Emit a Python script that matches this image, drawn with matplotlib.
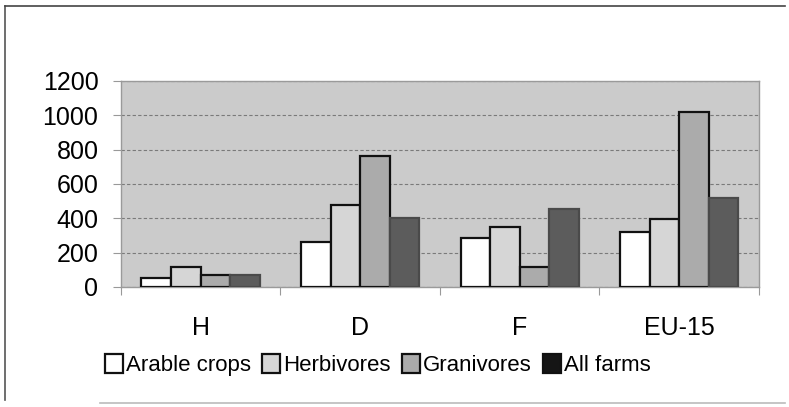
import matplotlib.pyplot as plt
import numpy as np
from matplotlib.patches import Patch

plt.rcParams['font.family'] = ['Liberation Sans', 'DejaVu Sans']

# Data
countries = ['H', 'D', 'F', 'EU-15']
series = ['Arable crops', 'Herbivores', 'Granivores', 'All farms']
arable = [50, 260, 287, 319]
herbivores = [115, 476, 348, 394]
granivores = [68, 765, 117, 1021]
all_farms = [70, 404, 453, 517]
values = [arable, herbivores, granivores, all_farms]
y_ticks = [0, 200, 400, 600, 800, 1000, 1200]

colors = ['#ffffff', '#d6d6d6', '#ababab', '#5c5c5c']
edges = ['#111111', '#111111', '#111111', '#4a4a4a']
legend_colors = ['#ffffff', '#d6d6d6', '#ababab', '#151515']

fig = plt.figure(figsize=(7.89, 4.07), dpi=100)
ax = fig.add_axes([0.153, 0.295, 0.809, 0.506])
ax.set_facecolor('#cbcbcb')

x = np.arange(len(countries))
w = 0.185
for i, vals in enumerate(values):
    ax.bar(x + (i - 1.5) * w, vals, width=w, color=colors[i],
           edgecolor=edges[i], linewidth=1.6, zorder=3)

ax.set_xlim(-0.5, len(countries) - 0.5)
ax.set_ylim(0, 1200)
ax.set_yticks(y_ticks)
ax.set_yticklabels([str(v) for v in y_ticks], fontsize=18)
ax.yaxis.grid(True, linestyle=(0, (3, 2)), color='#7a7a7a', linewidth=0.8, zorder=1)
ax.set_axisbelow(True)

ax.set_xticks(x)
ax.set_xticklabels(countries, fontsize=18)
ax.set_xticks(np.arange(-0.5, len(countries)), minor=True)
ax.tick_params(axis='x', which='major', length=0, pad=21)
ax.tick_params(axis='x', which='minor', length=6, color='#999999', width=0.8)
ax.tick_params(axis='y', length=6, color='#999999', width=0.8, pad=10)

for s in ax.spines.values():
    s.set_color('#9a9a9a')
    s.set_linewidth(1.0)

handles = [Patch(facecolor=c, edgecolor='#111111', linewidth=1.6, label=n)
           for c, n in zip(legend_colors, series)]
fig.legend(handles=handles, loc='center', bbox_to_anchor=(378 / 789, 1 - 365 / 407),
           ncol=4, frameon=False, fontsize=16, handlelength=0.8, handleheight=0.9,
           handletextpad=0.15, columnspacing=0.5)

# outer frame of the figure
fig.add_artist(plt.Line2D([5 / 789, 5 / 789], [1 - 6 / 407, 1 - 400 / 407],
                          transform=fig.transFigure, color='#555555', linewidth=1.2))
fig.add_artist(plt.Line2D([5 / 789, 785 / 789], [1 - 6 / 407, 1 - 6 / 407],
                          transform=fig.transFigure, color='#444444', linewidth=1.2))
fig.add_artist(plt.Line2D([100 / 789, 785 / 789], [1 - 403 / 407, 1 - 403 / 407],
                          transform=fig.transFigure, color='#bbbbbb', linewidth=1.2))

fig.savefig('out.png', dpi=100)
